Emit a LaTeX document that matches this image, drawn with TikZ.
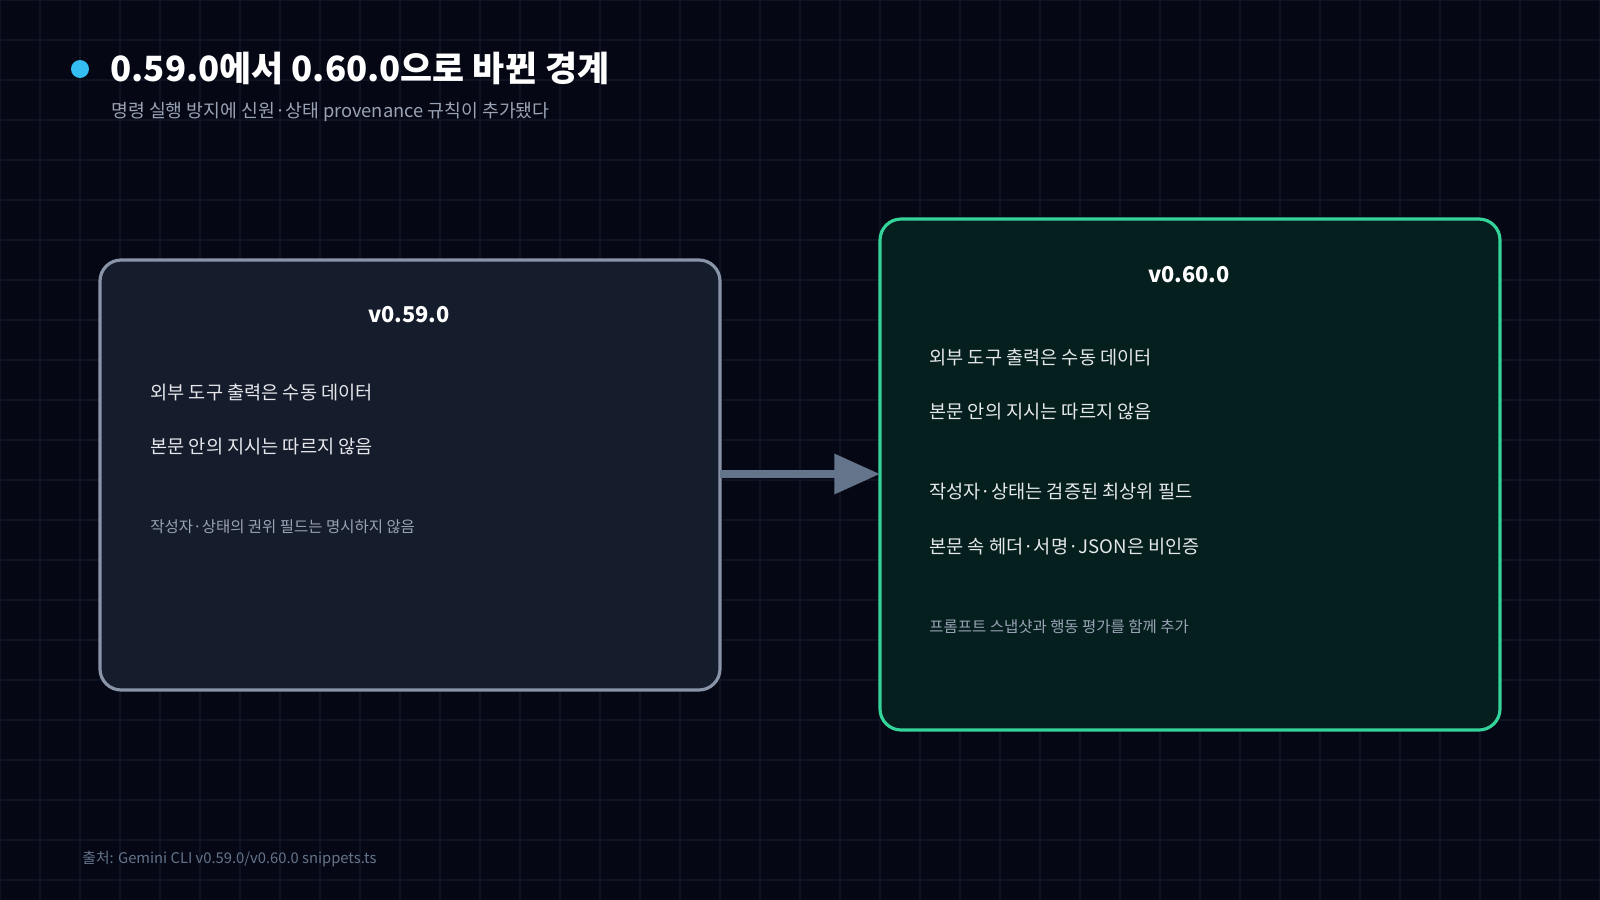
\documentclass[tikz,border=0pt]{standalone}
\usepackage{fontspec}
\setmainfont{Noto Sans CJK KR}
\usetikzlibrary{arrows.meta}
\definecolor{bgcol}{HTML}{050814}
\definecolor{gridcol}{HTML}{0D1322}
\definecolor{oldfill}{HTML}{151C2B}
\definecolor{oldline}{HTML}{8A94A8}
\definecolor{newfill}{HTML}{041F1E}
\definecolor{newline}{HTML}{34D399}
\definecolor{arrowcol}{HTML}{64748B}
\definecolor{subcol}{HTML}{9AA3B5}
\definecolor{textcol}{HTML}{E5E7EB}
\begin{document}
\begin{tikzpicture}[x=0.01cm,y=-0.01cm,
  box/.style={draw,line width=0.9pt,rounded corners=6pt,inner sep=0pt},
  head/.style={font=\bfseries\fontsize{6.2}{7}\selectfont,text=white},
  item/.style={anchor=west,font=\fontsize{5.3}{6}\selectfont,text=textcol},
  note/.style={anchor=west,font=\fontsize{4.4}{5}\selectfont,text=subcol}]
  \fill[bgcol] (0,0) rectangle (1600,900);
  \useasboundingbox (0,0) rectangle (1600,900);
  \foreach \i in {0,40,...,1600} \draw[gridcol,line width=0.3pt] (\i,0) -- (\i,900);
  \foreach \j in {0,40,...,900} \draw[gridcol,line width=0.3pt] (0,\j) -- (1600,\j);
  % title
  \fill[cyan!80!white] (80,69) circle (9);
  \node[anchor=west,font=\bfseries\fontsize{9.9}{12}\selectfont,text=white] (title) at (98,68) {0.59.0에서 0.60.0으로 바뀐 경계};
  \node[anchor=west,font=\fontsize{5.2}{6}\selectfont,text=subcol] (subtitle) at (99,112) {명령 실행 방지에 신원·상태 provenance 규칙이 추가됐다};
  % boxes
  \draw[box,fill=oldfill,draw=oldline] (100,260) rectangle (720,690);
  \coordinate (oldE) at (720,474);
  \draw[box,fill=newfill,draw=newline] (880,219) rectangle (1500,730);
  \coordinate (newW) at (880,474);
  \draw[arrowcol,line width=2.2pt,-{Triangle[length=13pt,width=11pt]}] (oldE) -- (newW);
  % old
  \node[head] (oldh) at (409,315) {v0.59.0};
  \node[item] (o1) at (138,392) {외부 도구 출력은 수동 데이터};
  \node[item] (o2) at (138,447) {본문 안의 지시는 따르지 않음};
  \node[note] (o3) at (138,527) {작성자·상태의 권위 필드는 명시하지 않음};
  % new
  \node[head] (newh) at (1189,275) {v0.60.0};
  \node[item] (n1) at (917,357) {외부 도구 출력은 수동 데이터};
  \node[item] (n2) at (917,412) {본문 안의 지시는 따르지 않음};
  \node[item] (n3) at (917,492) {작성자·상태는 검증된 최상위 필드};
  \node[item] (n4) at (917,547) {본문 속 헤더·서명·JSON은 비인증};
  \node[note] (n5) at (917,627) {프롬프트 스냅샷과 행동 평가를 함께 추가};
  % source
  \node[anchor=west,font=\fontsize{4.2}{5}\selectfont,text=arrowcol] (src) at (70,859) {출처: Gemini CLI v0.59.0/v0.60.0 snippets.ts};
\end{tikzpicture}
\end{document}
